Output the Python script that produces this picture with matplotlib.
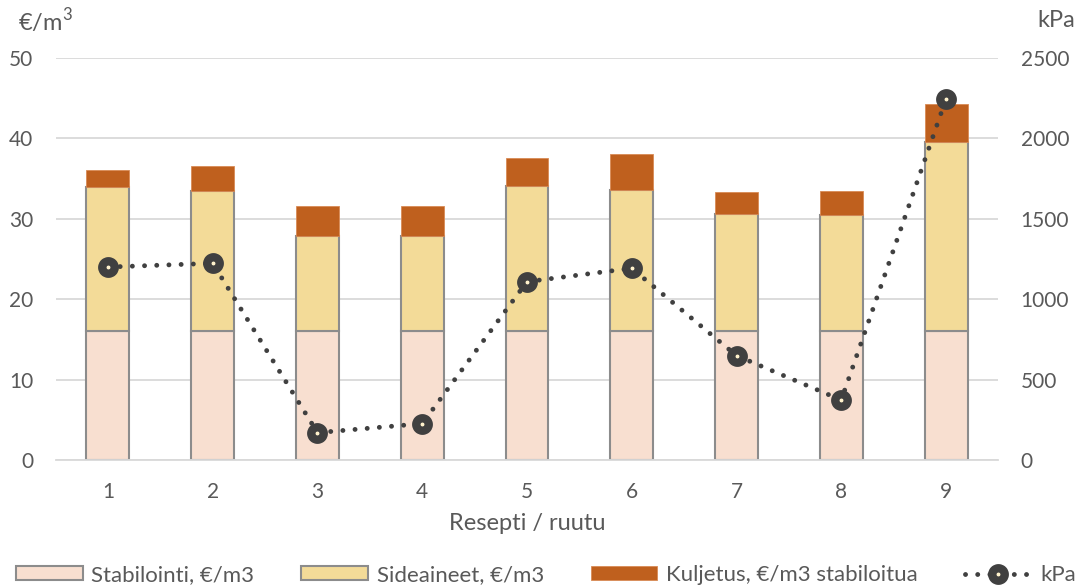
import matplotlib.pyplot as plt
from matplotlib.patches import Patch

plt.rcParams['font.family'] = ['Lato', 'DejaVu Sans']
plt.rcParams['mathtext.fontset'] = 'custom'
plt.rcParams['mathtext.rm'] = 'Lato'

# Cost per recipe (€/m3) and strength (kPa)
recipes = ['1', '2', '3', '4', '5', '6', '7', '8', '9']
stabilointi = [16, 16, 16, 16, 16, 16, 16, 16, 16]
sideaineet = [17.9, 17.4, 11.9, 11.9, 18.1, 17.6, 14.6, 14.5, 23.6]
kuljetus = [2.2, 3.2, 3.7, 3.7, 3.5, 4.5, 2.7, 3.0, 4.7]
kpa = [1200, 1223, 170, 226, 1109, 1192, 649, 373, 2245]

text_col = '#595959'
grid_col = '#d9d9d9'

fig = plt.figure(figsize=(10.81, 5.88), dpi=100)
ax = fig.add_axes([0.0514, 0.2177, 0.8722, 0.6837])
ax2 = ax.twinx()

x = list(range(1, len(recipes) + 1))
w = 0.41
ax.bar(x, stabilointi, w, color='#f8dfd0', edgecolor='#8c8c8c', linewidth=1.5, zorder=2)
ax.bar(x, sideaineet, w, bottom=stabilointi, color='#f3db98', edgecolor='#8c8c8c', linewidth=1.5, zorder=2)
base2 = [a + b for a, b in zip(stabilointi, sideaineet)]
ax.bar(x, kuljetus, w, bottom=base2, color='#bf601e', edgecolor='#d98a55', linewidth=0.6, zorder=2)

line, = ax2.plot(x, kpa, color='#404040', lw=3.5, linestyle=(0, (0.01, 2.5)),
                 dash_capstyle='round', marker='o', ms=9, mew=6,
                 mfc='#fff2cc', mec='#404040', zorder=3)

ax.set_xlim(0.5, len(recipes) + 0.5)
ax.set_ylim(0, 50)
ax.set_yticks(range(0, 51, 10))
ax2.set_ylim(0, 2500)
ax2.set_yticks(range(0, 2501, 500))
ax.set_xticks(x)
ax.set_xticklabels(recipes)

ax.grid(axis='y', color=grid_col, lw=1.3, zorder=0)
ax.set_axisbelow(True)
for a in (ax, ax2):
    for s in a.spines.values():
        s.set_visible(False)
    a.tick_params(length=0, labelsize=15, labelcolor=text_col)
ax.spines['bottom'].set_visible(True)
ax.spines['bottom'].set_color(grid_col)
ax.spines['bottom'].set_linewidth(1.3)
ax.tick_params(axis='y', pad=16)
ax2.tick_params(axis='y', pad=16)
ax.tick_params(axis='x', pad=16)

ax.set_xlabel('Resepti / ruutu', fontsize=17, color=text_col, labelpad=8)
fig.text(0.017, 0.965, '€/m$^3$', fontsize=17, color=text_col, va='center')
fig.text(0.995, 0.965, 'kPa', fontsize=17, color=text_col, va='center', ha='right')

handles = [
    Patch(facecolor='#f8dfd0', edgecolor='#8c8c8c', linewidth=1.5),
    Patch(facecolor='#f3db98', edgecolor='#8c8c8c', linewidth=1.5),
    Patch(facecolor='#bf601e', edgecolor='#d98a55', linewidth=0.6),
    line,
]
labels = ['Stabilointi, €/m3', 'Sideaineet, €/m3', 'Kuljetus, €/m3 stabiloitua', 'kPa']
leg = fig.legend(handles, labels, loc='center', bbox_to_anchor=(0.505, 0.022), ncol=4,
                 frameon=False, fontsize=16, handlelength=3.0, handleheight=0.6,
                 columnspacing=2.1, handletextpad=0.4, borderpad=0.1)
for t in leg.get_texts():
    t.set_color(text_col)

fig.savefig('out.png', dpi=100)
